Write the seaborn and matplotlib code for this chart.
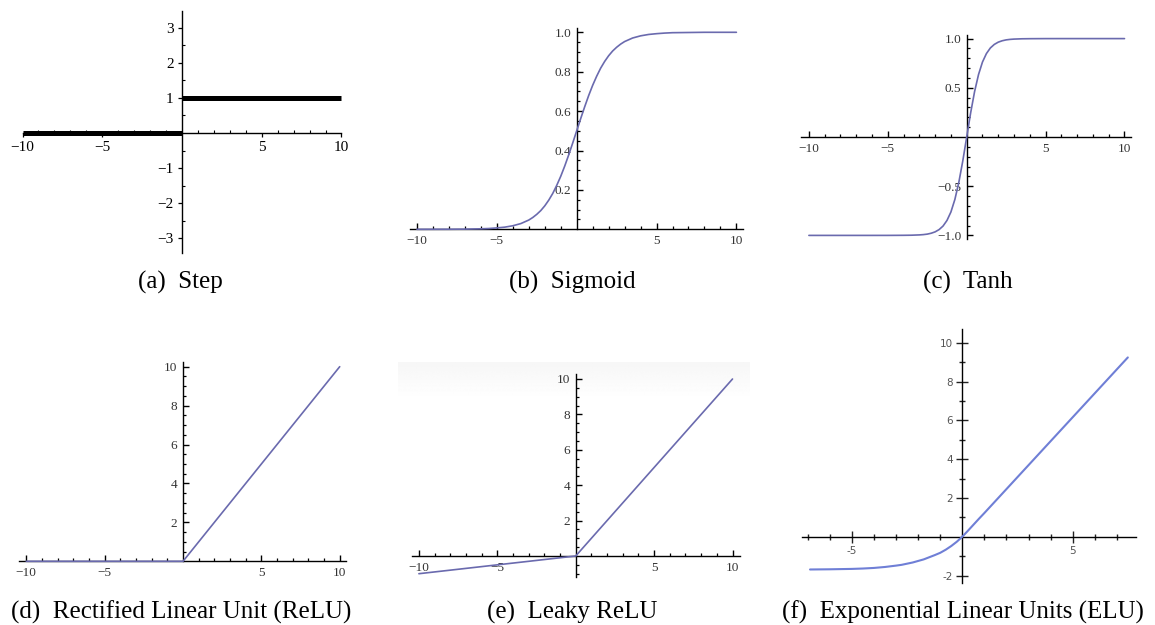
import numpy as np
import pandas as pd
import matplotlib
matplotlib.use("Agg")
import matplotlib.pyplot as plt
from matplotlib.ticker import FixedLocator
import seaborn as sns

W, H = 1155, 625

# ── values ────────────────────────────────────────────────────────────────────
step_x = [-10, 0, 0, 10]
step_y = [0, 0, 1, 1]
step_piece = [0, 0, 1, 1]

sigmoid_x = [-10, -8, -7, -6, -5.5, -5, -4.5, -4, -3.5, -3, -2.75, -2.5, -2.25, -2,
             -1.75, -1.5, -1.25, -1, -0.75, -0.5, -0.25, 0, 0.25, 0.5, 0.75, 1,
             1.25, 1.5, 1.75, 2, 2.25, 2.5, 2.75, 3, 3.5, 4, 4.5, 5, 5.5, 6, 7, 8, 10]
sigmoid_y = [0.0, 0.0003, 0.0009, 0.0025, 0.004, 0.007, 0.011, 0.018, 0.029, 0.047,
             0.060, 0.076, 0.095, 0.119, 0.148, 0.182, 0.223, 0.269, 0.321, 0.378,
             0.438, 0.5, 0.562, 0.622, 0.679, 0.731, 0.777, 0.818, 0.852, 0.881,
             0.905, 0.924, 0.940, 0.953, 0.971, 0.982, 0.989, 0.993, 0.996, 0.998,
             0.999, 1.0, 1.0]

tanh_x = [-10, -6, -5, -4, -3.5, -3, -2.75, -2.5, -2.25, -2, -1.75, -1.5, -1.25, -1,
          -0.75, -0.5, -0.25, 0, 0.25, 0.5, 0.75, 1, 1.25, 1.5, 1.75, 2, 2.25, 2.5,
          2.75, 3, 3.5, 4, 5, 6, 10]
tanh_y = [-1.0, -1.0, -0.9999, -0.999, -0.998, -0.995, -0.992, -0.987, -0.978, -0.964,
          -0.941, -0.905, -0.848, -0.762, -0.635, -0.462, -0.245, 0.0, 0.245, 0.462,
          0.635, 0.762, 0.848, 0.905, 0.941, 0.964, 0.978, 0.987, 0.992, 0.995,
          0.998, 0.999, 0.9999, 1.0, 1.0]

relu_x = [-10, 0, 10]
relu_y = [0, 0, 10]

leaky_x = [-10, 0, 10]
leaky_y = [-1, 0, 10]

elu_x = [-6.9, -6, -5.5, -5, -4.5, -4, -3.5, -3, -2.75, -2.5, -2.25, -2, -1.75, -1.5,
         -1.25, -1, -0.75, -0.5, -0.25, 0, 0.25, 0.5, 0.75, 1, 7.5]
elu_y = [-1.69, -1.68, -1.67, -1.66, -1.64, -1.61, -1.56, -1.49, -1.45, -1.39,
         -1.33, -1.25, -1.17, -1.06, -0.95, -0.83, -0.67, -0.48, -0.26, 0.0,
         0.30, 0.61, 0.92, 1.22, 9.24]

captions = ["(a)  Step", "(b)  Sigmoid", "(c)  Tanh",
            "(d)  Rectified Linear Unit (ReLU)", "(e)  Leaky ReLU",
            "(f)  Exponential Linear Units (ELU)"]

# ── layout: origin pixel, px per unit, axis-line extents ─────────────────────
LAYOUT = {
    "a": dict(o=(182, 133), s=(15.95, 35.1), xb=(-10, 10), yb=(-3.42, 3.48)),
    "b": dict(o=(576.7, 229.3), s=(15.97, 197), xb=(-10.42, 10.41), yb=(0, 1.023)),
    "c": dict(o=(966.7, 137), s=(15.78, 98.4), xb=(-10.47, 10.44), yb=(-1.04, 1.04)),
    "d": dict(o=(183, 561.3), s=(15.67, 19.46), xb=(-10.49, 10.43), yb=(0, 10.24)),
    "e": dict(o=(575.7, 556), s=(15.68, 17.7), xb=(-10.45, 10.47), yb=(-1.17, 10.28)),
    "f": dict(o=(962.3, 536.7), s=(22.07, 19.4), xb=(-7.25, 7.85), yb=(-2.4, 10.7)),
}
CAPTION_POS = [(180, 282), (572, 282), (968, 282), (181, 612), (572, 612), (963, 612)]

MATH_BLUE = "#6a6aae"
ELU_BLUE = "#6f7fd6"
MINUS = "\u2212"

sns.set_theme(style="white")
plt.rcParams["font.family"] = ["Liberation Serif", "DejaVu Serif"]

fig = plt.figure(figsize=(W / 100, H / 100), dpi=100)


def make_axes(key):
    lay = LAYOUT[key]
    ox, oy = lay["o"]
    sx, sy = lay["s"]
    x0, x1 = lay["xb"][0] - 0.6, lay["xb"][1] + 0.6
    yr = lay["yb"][1] - lay["yb"][0]
    y0, y1 = lay["yb"][0] - 0.05 * yr, lay["yb"][1] + 0.05 * yr
    left = ox + x0 * sx
    top = oy - y1 * sy
    w = (x1 - x0) * sx
    h = (y1 - y0) * sy
    ax = fig.add_axes([left / W, 1 - (top + h) / H, w / W, h / H])
    ax.set_xlim(x0, x1)
    ax.set_ylim(y0, y1)
    ax.patch.set_alpha(0)
    for side in ["top", "right"]:
        ax.spines[side].set_visible(False)
    for side in ["left", "bottom"]:
        ax.spines[side].set_position(("data", 0))
        ax.spines[side].set_color("black")
        ax.spines[side].set_linewidth(1.0)
        ax.spines[side].set_zorder(1)
    ax.spines["bottom"].set_bounds(*lay["xb"])
    ax.spines["left"].set_bounds(*lay["yb"])
    ax.grid(False)
    return ax


def minor_ticks(ax, key, xstep, ystep):
    lay = LAYOUT[key]
    xs = np.arange(np.ceil(lay["xb"][0] / xstep), np.floor(lay["xb"][1] / xstep) + 1) * xstep
    ys = np.arange(np.ceil(lay["yb"][0] / ystep - 1e-9), np.floor(lay["yb"][1] / ystep + 1e-9) + 1) * ystep
    ax.xaxis.set_minor_locator(FixedLocator([v for v in xs if abs(v) > 1e-9]))
    ax.yaxis.set_minor_locator(FixedLocator([v for v in ys if abs(v) > 1e-9]))


def fmt(v):
    s = f"{abs(v):g}" if float(v).is_integer() else f"{abs(v):.1f}"
    return (MINUS + s) if v < 0 else s


def math_ticks(ax, key, xt, yt, xminor, yminor, yfmt=None):
    ax.set_xticks(xt, [fmt(v) for v in xt])
    ax.set_yticks(yt, [yfmt(v) if yfmt else fmt(v) for v in yt])
    minor_ticks(ax, key, xminor, yminor)
    ax.tick_params(which="major", direction="in", length=4.5, width=1.0, color="black",
                   labelsize=9.5, labelcolor="#333333", pad=4, bottom=True, left=True)
    ax.tick_params(which="minor", direction="in", length=2.2, width=0.9, color="black",
                   bottom=True, left=True)
    ax.set_xlabel("")
    ax.set_ylabel("")


# (a) Step
ax = make_axes("a")
step_df = pd.DataFrame({"x": step_x, "y": step_y, "piece": step_piece})
sns.lineplot(data=step_df, x="x", y="y", units="piece", estimator=None, sort=False,
             color="black", linewidth=3.6, ax=ax, zorder=3)
for line in ax.lines:
    line.set_solid_capstyle("butt")
ax.set_xticks([-10, -5, 5, 10], [fmt(v) for v in [-10, -5, 5, 10]])
ax.set_yticks([-3, -2, -1, 1, 2, 3], [fmt(v) for v in [-3, -2, -1, 1, 2, 3]])
minor_ticks(ax, "a", 1, 0.5)
ax.tick_params(which="major", direction="out", length=3, width=0.9, color="black",
               labelsize=11, labelcolor="black", pad=3, bottom=True, left=True)
ax.tick_params(which="minor", direction="in", length=2, width=0.8, color="black",
               bottom=True, left=True)
ax.set_xlabel("")
ax.set_ylabel("")

# (b) Sigmoid
ax = make_axes("b")
sns.lineplot(x=sigmoid_x, y=sigmoid_y, estimator=None, sort=False,
             color=MATH_BLUE, linewidth=1.2, ax=ax, zorder=3)
math_ticks(ax, "b", [-10, -5, 5, 10], [0.2, 0.4, 0.6, 0.8, 1.0], 1, 0.05,
           yfmt=lambda v: f"{v:.1f}")

# (c) Tanh
ax = make_axes("c")
sns.lineplot(x=tanh_x, y=tanh_y, estimator=None, sort=False,
             color=MATH_BLUE, linewidth=1.2, ax=ax, zorder=3)
math_ticks(ax, "c", [-10, -5, 5, 10], [-1.0, -0.5, 0.5, 1.0], 1, 0.1,
           yfmt=lambda v: (MINUS if v < 0 else "") + f"{abs(v):.1f}")

# (d) ReLU
ax = make_axes("d")
sns.lineplot(x=relu_x, y=relu_y, estimator=None, sort=False,
             color=MATH_BLUE, linewidth=1.2, ax=ax, zorder=3)
math_ticks(ax, "d", [-10, -5, 5, 10], [2, 4, 6, 8, 10], 1, 0.5)

# (e) Leaky ReLU
bg = fig.add_axes([398 / W, 1 - 400 / H, 352 / W, 38 / H], zorder=-5)
bg.imshow(np.linspace(0.965, 1.0, 40)[:, None] * np.ones((1, 10)), cmap="gray",
          vmin=0, vmax=1, aspect="auto", interpolation="bilinear")
bg.axis("off")
ax = make_axes("e")
sns.lineplot(x=leaky_x, y=leaky_y, estimator=None, sort=False,
             color=MATH_BLUE, linewidth=1.2, ax=ax, zorder=3)
math_ticks(ax, "e", [-10, -5, 5, 10], [2, 4, 6, 8, 10], 1, 0.5)

# (f) ELU
ax = make_axes("f")
sns.lineplot(x=elu_x, y=elu_y, estimator=None, sort=False,
             color=ELU_BLUE, linewidth=1.5, ax=ax, zorder=3)
ax.set_xticks([-5, 5], ["-5", "5"])
ax.set_yticks([-2, 2, 4, 6, 8, 10], ["-2", "2", "4", "6", "8", "10"])
minor_ticks(ax, "f", 1, 1)
for tl in ax.get_xticklabels() + ax.get_yticklabels():
    tl.set_family("DejaVu Sans")
ax.tick_params(which="major", direction="inout", length=9, width=1.0, color="#222222",
               labelsize=7.5, labelcolor="#555555", pad=2, bottom=True, left=True)
ax.tick_params(which="minor", direction="inout", length=4, width=1.0, color="#222222",
               bottom=True, left=True)

for text, (cx, cy) in zip(captions, CAPTION_POS):
    fig.text(cx / W, 1 - cy / H, text, ha="center", va="center", fontsize=18,
             family=["Liberation Serif", "DejaVu Serif"], color="black")

fig.savefig("out.png", dpi=100)
